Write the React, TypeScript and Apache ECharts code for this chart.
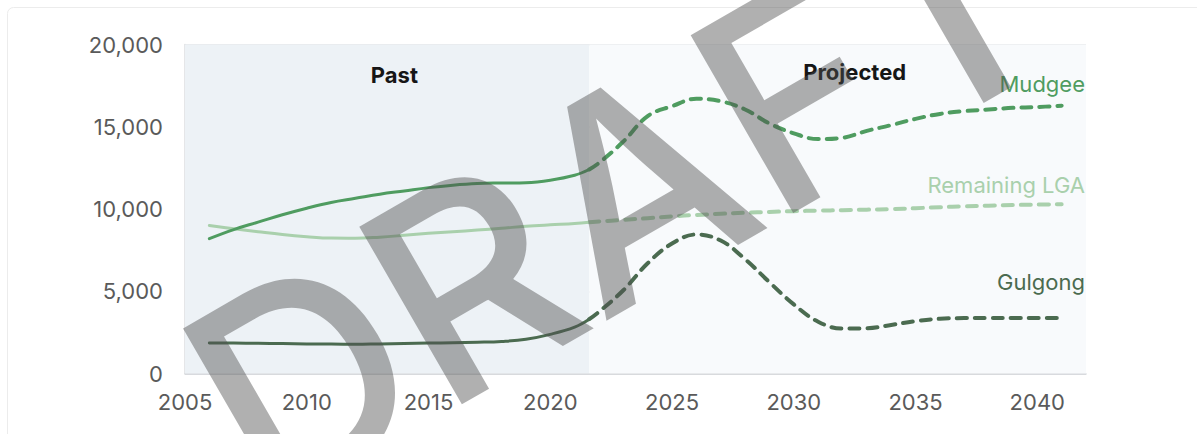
import React, { useEffect, useRef } from "react";
import * as echarts from "echarts";

// ---- data ----
const xMin = 2005;
const xMax = 2042;
const xInterval = 5;
const yMax = 20000;
const yInterval = 5000;
const splitYear = 2021.6;

const pastYears = [2006, 2007, 2008, 2009, 2010, 2011, 2012, 2013, 2014, 2015, 2016, 2017, 2018, 2019, 2020, 2021, 2021.6];
const projYears = [2021.6, 2022, 2023, 2024, 2025, 2026, 2027, 2028, 2029, 2030, 2031, 2032, 2033, 2034, 2035, 2036, 2037, 2038, 2039, 2040, 2041];

const mudgeePast = [8200, 8750, 9200, 9650, 10050, 10400, 10650, 10900, 11100, 11300, 11450, 11550, 11580, 11600, 11750, 12050, 12400];
const mudgeeProj = [12400, 12800, 14100, 15650, 16250, 16700, 16550, 16050, 15200, 14600, 14250, 14330, 14750, 15100, 15480, 15780, 15950, 16050, 16150, 16200, 16280];

const lgaPast = [9000, 8800, 8620, 8450, 8320, 8230, 8220, 8290, 8400, 8520, 8620, 8720, 8830, 8950, 9040, 9120, 9200];
const lgaProj = [9200, 9240, 9340, 9440, 9550, 9640, 9710, 9770, 9820, 9870, 9900, 9930, 9960, 9990, 10050, 10110, 10160, 10200, 10240, 10270, 10290];

const gulgongPast = [1860, 1850, 1840, 1820, 1800, 1790, 1780, 1800, 1820, 1850, 1870, 1900, 1950, 2080, 2380, 2820, 3300];
const gulgongProj = [3300, 3750, 5060, 6700, 7900, 8450, 8080, 6950, 5550, 4200, 3150, 2730, 2750, 2950, 3180, 3330, 3370, 3380, 3380, 3380, 3380];

const seriesNames = ["Remaining LGA", "Mudgee", "Gulgong"];
const seriesColors = ["#a9d0ac", "#4f9c60", "#4b6b50"];
const periodLabels = ["Past", "Projected"];

const FONT = "Inter, 'Noto Sans', sans-serif";

export default function App() {
  const ref = useRef<HTMLDivElement>(null);

  useEffect(() => {
    if (!ref.current) return;
    const chart = echarts.init(ref.current, undefined, { renderer: "svg" });

    const pairs = (xs: number[], vs: number[]) => xs.map((x, i) => [x, vs[i]]);
    const line = (name: string, data: number[][], color: string, dashed: boolean) => ({
      type: "line",
      name,
      data,
      smooth: 0.4,
      symbol: "none",
      showSymbol: false,
      silent: true,
      z: 3,
      emphasis: { disabled: true },
      lineStyle: {
        color,
        width: dashed ? 4 : 3,
        type: dashed ? [10, 8] : "solid",
        cap: "round",
        join: "round",
      },
    });

    const allPast = [lgaPast, mudgeePast, gulgongPast];
    const allProj = [lgaProj, mudgeeProj, gulgongProj];

    const series: any[] = [
      {
        type: "line",
        data: [],
        silent: true,
        z: 1,
        markArea: {
          silent: true,
          label: { show: false },
          data: [
            [{ xAxis: xMin, itemStyle: { color: "#edf2f6" } }, { xAxis: splitYear }],
            [{ xAxis: splitYear, itemStyle: { color: "#f8fafc" } }, { xAxis: xMax }],
          ],
        },
      },
    ];
    seriesNames.forEach((n, i) => {
      series.push(line(n + " past", pairs(pastYears, allPast[i]), seriesColors[i], false));
      series.push(line(n + " projected", pairs(projYears, allProj[i]), seriesColors[i], true));
    });

    chart.setOption({
      animation: false,
      backgroundColor: "#ffffff",
      grid: { left: 185, right: 111, top: 44.5, bottom: 60.5, containLabel: false },
      xAxis: {
        type: "value",
        min: xMin,
        max: xMax,
        interval: xInterval,
        axisLine: { show: true, lineStyle: { color: "#d3d6da", width: 1.5 } },
        axisTick: { show: false },
        splitLine: { show: false },
        axisLabel: {
          color: "#5a5a5a",
          fontSize: 22,
          fontFamily: FONT,
          margin: 17,
          showMaxLabel: false,
          formatter: (v: number) => (v % xInterval === 0 ? String(v) : ""),
        },
      },
      yAxis: {
        type: "value",
        min: 0,
        max: yMax,
        interval: yInterval,
        axisLine: { show: true, lineStyle: { color: "#dcdee1", width: 1.5 } },
        axisTick: { show: false },
        splitLine: { show: true, lineStyle: { color: "#dcdee1", width: 1.5 } },
        axisLabel: {
          color: "#5a5a5a",
          fontSize: 22,
          fontFamily: FONT,
          margin: 22,
          formatter: (v: number) => v.toLocaleString("en-US"),
        },
      },
      series,
    });

    const px = (x: number, y: number) => chart.convertToPixel({ gridIndex: 0 }, [x, y]) as number[];
    const endLabelOffsets = [-19, -21.5, -36];
    const labelGraphics = seriesNames.map((n, i) => {
      const proj = allProj[i];
      const p = px(xMax, proj[proj.length - 1]);
      return {
        type: "text",
        z: 50,
        x: p[0] - 1,
        y: p[1] + endLabelOffsets[i],
        style: {
          text: n,
          fill: seriesColors[i],
          font: `400 22px ${FONT}`,
          textAlign: "right",
          textVerticalAlign: "middle",
        },
      };
    });

    const pastMid = px(2013.6, yMax);
    const projMid = px(2032.5, yMax);

    chart.setOption({
      graphic: [
        {
          type: "rect",
          z: 0,
          shape: { x: 7.5, y: 7.5, width: 1400, height: 800, r: 6 },
          style: { fill: "none", stroke: "#ececec", lineWidth: 1 },
        },
        {
          type: "text",
          z: 50,
          x: pastMid[0],
          y: pastMid[1] + 30.5,
          style: { text: periodLabels[0], fill: "#161616", font: `700 22px ${FONT}`, textAlign: "center", textVerticalAlign: "middle" },
        },
        {
          type: "text",
          z: 50,
          x: projMid[0],
          y: projMid[1] + 27.5,
          style: { text: periodLabels[1], fill: "#161616", font: `700 22px ${FONT}`, textAlign: "center", textVerticalAlign: "middle" },
        },
        ...labelGraphics,
        {
          type: "text",
          z: 100,
          x: 214.7,
          y: 428.7,
          rotation: Math.PI / 6,
          silent: true,
          style: {
            text: "DRAFT",
            fill: "rgba(80,80,80,0.45)",
            font: `500 282px ${FONT}`,
            textAlign: "left",
            textVerticalAlign: "middle",
          },
        },
      ],
    });

    return () => chart.dispose();
  }, []);

  return (
    <div
      ref={ref}
      style={{ position: "fixed", left: 0, top: 0, width: 1197, height: 434 }}
    />
  );
}
